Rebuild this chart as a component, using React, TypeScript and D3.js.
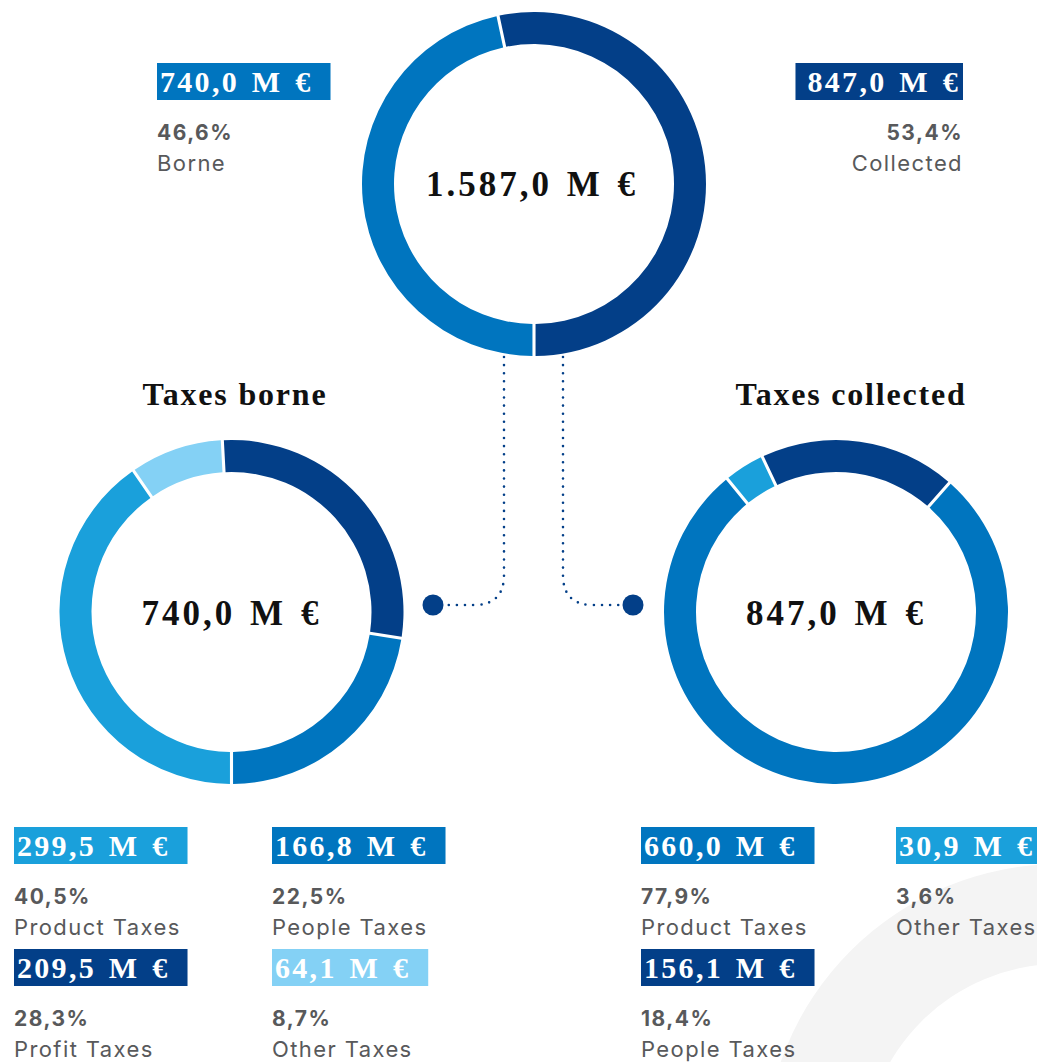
import React, { useEffect, useRef } from "react";
import * as d3 from "d3";

// ---------- data ----------
const topCategories = ["Borne", "Collected"];
const topValues = [740.0, 847.0];
const topShares = [46.6, 53.4];

const borneCategories = ["Product Taxes", "Other Taxes", "Profit Taxes", "People Taxes"];
const borneValues = [299.5, 64.1, 209.5, 166.8];
const borneShares = [40.5, 8.7, 28.3, 22.5];

const collectedCategories = ["Product Taxes", "Other Taxes", "People Taxes"];
const collectedValues = [660.0, 30.9, 156.1];
const collectedShares = [77.9, 3.6, 18.4];

const chartTitles = ["Taxes borne", "Taxes collected"];
const unitSuffix = " M €";

// ---------- styles ----------
const NAVY = "#033F88";
const MED = "#0075BF";
const LIGHT = "#1AA0DB";
const PALE = "#84D1F5";
const GREY_TEXT = "#58595B";
const BG_ARC = "#F4F4F4";

const topColors = [MED, NAVY];
const borneColors = [LIGHT, PALE, NAVY, MED];
const collectedColors = [MED, LIGHT, NAVY];

const SERIF = "'Liberation Serif', 'DejaVu Serif', serif";
const SANS = "Inter, 'Open Sans', sans-serif";

const W = 1037;
const H = 1062;

const loc = d3.formatLocale({ decimal: ",", thousands: ".", grouping: [3], currency: ["", ""] });
const fmtVal = loc.format(",.1f");
const fmtPct = loc.format(".1f");

export default function App() {
  const ref = useRef<SVGSVGElement | null>(null);

  useEffect(() => {
    const svg = d3.select(ref.current);
    svg.selectAll("*").remove();

    // background decorative ring
    const bgArc = d3.arc<any>().innerRadius(196).outerRadius(296).startAngle(0).endAngle(2 * Math.PI);
    svg.append("path").attr("d", bgArc({} as any) as string).attr("transform", "translate(1060,1160)").attr("fill", BG_ARC);

    const R_OUT = 172;
    const R_IN = 140;

    function donut(cx: number, cy: number, values: number[], colors: string[], start: number) {
      const pie = d3
        .pie<number>()
        .sort(null)
        .value((d) => d)
        .startAngle(start)
        .endAngle(start + 2 * Math.PI)
        .padAngle(0.014);
      const arc = d3.arc<d3.PieArcDatum<number>>().innerRadius(R_IN).outerRadius(R_OUT);
      const g = svg.append("g").attr("transform", `translate(${cx},${cy})`);
      g.selectAll("path")
        .data(pie(values))
        .join("path")
        .attr("d", arc as any)
        .attr("fill", (_d, i) => colors[i]);
      return g;
    }

    function centerText(cx: number, y: number, text: string) {
      svg
        .append("text")
        .attr("x", cx)
        .attr("y", y)
        .attr("text-anchor", "middle")
        .attr("font-family", SERIF)
        .attr("font-weight", "bold")
        .attr("font-size", 35)
        .attr("letter-spacing", 3)
        .attr("word-spacing", 3)
        .attr("fill", "#111")
        .text(text);
    }

    function valueBox(x: number, y: number, text: string, color: string, align: "left" | "right") {
      const g = svg.append("g");
      const rect = g.append("rect").attr("y", y).attr("height", 37).attr("fill", color);
      const t = g
        .append("text")
        .attr("y", y + 29)
        .attr("font-family", SERIF)
        .attr("font-weight", "bold")
        .attr("font-size", 30)
        .attr("letter-spacing", 2.3)
        .attr("word-spacing", 3)
        .attr("fill", "#fff")
        .text(text);
      const w = (t.node() as SVGTextElement).getComputedTextLength();
      if (align === "left") {
        t.attr("x", x + 3);
        rect.attr("x", x).attr("width", w + 21);
      } else {
        t.attr("x", x - 3 - w);
        rect.attr("x", x - w - 15).attr("width", w + 15);
      }
    }

    function label(x: number, y: number, value: number, share: number, name: string, color: string, align: "left" | "right") {
      valueBox(x, y, fmtVal(value) + unitSuffix, color, align);
      const anchor = align === "left" ? "start" : "end";
      svg
        .append("text")
        .attr("x", x)
        .attr("y", y + 77)
        .attr("text-anchor", anchor)
        .attr("font-family", SANS)
        .attr("font-weight", 700)
        .attr("font-size", 21)
        .attr("letter-spacing", 1.5)
        .attr("fill", GREY_TEXT)
        .text(fmtPct(share) + "%");
      svg
        .append("text")
        .attr("x", x)
        .attr("y", y + 108)
        .attr("text-anchor", anchor)
        .attr("font-family", SANS)
        .attr("font-weight", 400)
        .attr("font-size", 22)
        .attr("letter-spacing", 1.4)
        .attr("fill", GREY_TEXT)
        .text(name);
    }

    // connectors
    const conn = svg.append("g").attr("fill", "none").attr("stroke", NAVY);
    const dotted = (d: string) =>
      conn
        .append("path")
        .attr("d", d)
        .attr("stroke-width", 2.6)
        .attr("stroke-linecap", "round")
        .attr("stroke-dasharray", "0 8.1");
    dotted("M504,357 V575 Q504,605 474,605 H444");
    dotted("M563,357 V575 Q563,605 593,605 H622");
    svg.append("circle").attr("cx", 433).attr("cy", 605).attr("r", 10.5).attr("fill", NAVY);
    svg.append("circle").attr("cx", 633).attr("cy", 605).attr("r", 10.5).attr("fill", NAVY);

    // top donut
    donut(534, 184, topValues, topColors, Math.PI);
    centerText(532, 196, fmtVal(d3.sum(topValues)) + unitSuffix);
    label(157, 63, topValues[0], topShares[0], topCategories[0], topColors[0], "left");
    label(963, 63, topValues[1], topShares[1], topCategories[1], topColors[1], "right");

    // titles
    [
      { x: 235, t: chartTitles[0] },
      { x: 851, t: chartTitles[1] },
    ].forEach((d) => {
      svg
        .append("text")
        .attr("x", d.x)
        .attr("y", 405)
        .attr("text-anchor", "middle")
        .attr("font-family", SERIF)
        .attr("font-weight", "bold")
        .attr("font-size", 32)
        .attr("letter-spacing", 1.8)
        .attr("fill", "#111")
        .text(d.t);
    });

    // bottom donuts
    donut(231.5, 612, borneValues, borneColors, Math.PI);
    centerText(231.5, 625, fmtVal(topValues[0]) + unitSuffix);
    donut(836, 612, collectedValues, collectedColors, (41.3 * Math.PI) / 180);
    centerText(836, 625, fmtVal(d3.sum(collectedValues)) + unitSuffix);

    // legends
    const borneSlots = [
      [14, 827],
      [272, 949],
      [14, 949],
      [272, 827],
    ];
    borneCategories.forEach((c, i) =>
      label(borneSlots[i][0], borneSlots[i][1], borneValues[i], borneShares[i], c, borneColors[i], "left")
    );
    const collectedSlots = [
      [641, 827],
      [896, 827],
      [641, 949],
    ];
    collectedCategories.forEach((c, i) =>
      label(collectedSlots[i][0], collectedSlots[i][1], collectedValues[i], collectedShares[i], c, collectedColors[i], "left")
    );
  }, []);

  return (
    <svg
      ref={ref}
      width={W}
      height={H}
      viewBox={`0 0 ${W} ${H}`}
      style={{ position: "absolute", left: 0, top: 0, background: "#fff", display: "block" }}
    />
  );
}
